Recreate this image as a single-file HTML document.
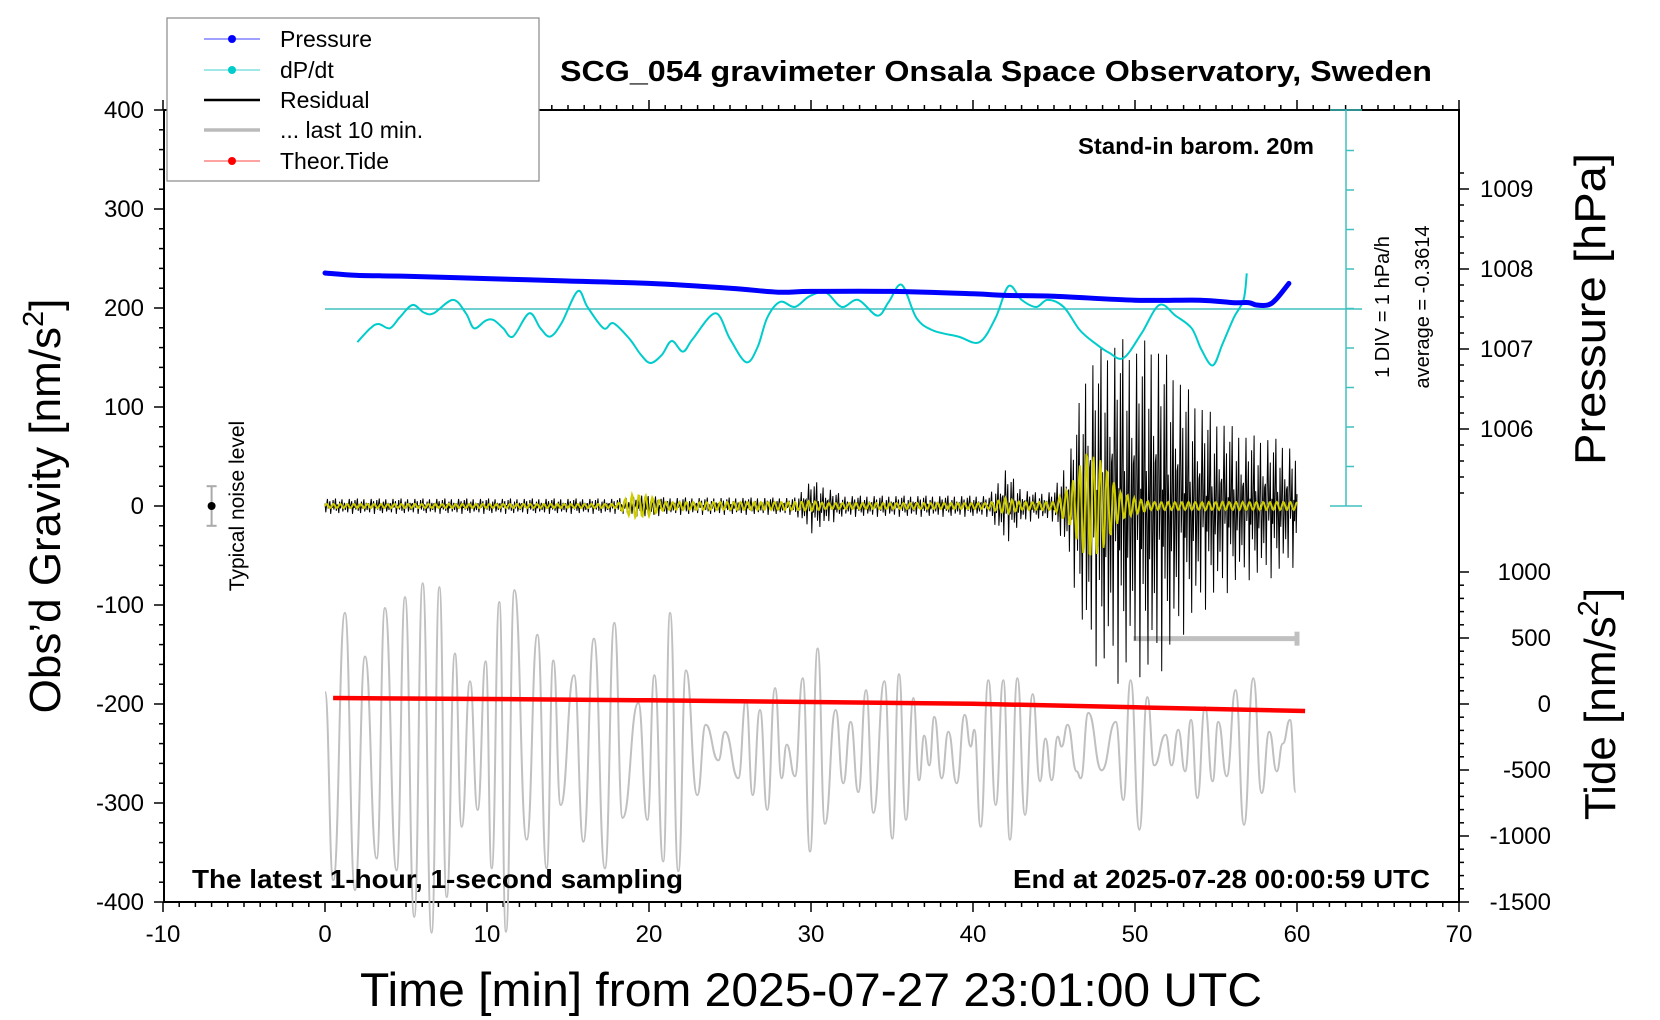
<!DOCTYPE html>
<html><head><meta charset="utf-8"><style>
html,body{margin:0;padding:0;background:#fff}
svg{display:block}
text{font-family:"Liberation Sans",sans-serif}
</style></head><body>
<svg id="chart" width="1660" height="1020" viewBox="0 0 1660 1020" xmlns="http://www.w3.org/2000/svg">
<g id="g-axes"></g>
<g id="g-data"></g>
<g id="g-text">
<text x="560" y="81" font-size="29" font-weight="bold" textLength="872" lengthAdjust="spacingAndGlyphs">SCG_054 gravimeter Onsala Space Observatory, Sweden</text>
<text x="1078" y="154" font-size="23" font-weight="bold" textLength="236" lengthAdjust="spacingAndGlyphs">Stand-in barom. 20m</text>
<text x="192" y="888" font-size="26" font-weight="bold" textLength="491" lengthAdjust="spacingAndGlyphs">The latest 1-hour, 1-second sampling</text>
<text x="1013" y="888" font-size="26" font-weight="bold" textLength="417" lengthAdjust="spacingAndGlyphs">End at 2025-07-28 00:00:59 UTC</text>
<text transform="translate(1389,307) rotate(-90)" font-size="20" text-anchor="middle">1 DIV = 1 hPa/h</text>
<text transform="translate(1429,307) rotate(-90)" font-size="20" text-anchor="middle">average = -0.3614</text>
<text transform="translate(244,506) rotate(-90)" font-size="21" text-anchor="middle">Typical noise level</text>
<text transform="translate(60,506) rotate(-90)" font-size="44" text-anchor="middle">Obs’d Gravity [nm/s<tspan dy="-17" font-size="29">2</tspan><tspan dy="17">]</tspan></text>
<text transform="translate(1605,309) rotate(-90)" font-size="44" text-anchor="middle" textLength="312" lengthAdjust="spacingAndGlyphs">Pressure [hPa]</text>
<text transform="translate(1615,704) rotate(-90)" font-size="44" text-anchor="middle">Tide [nm/s<tspan dy="-17" font-size="29">2</tspan><tspan dy="17">]</tspan></text>
<text x="360" y="1006" font-size="47" textLength="902" lengthAdjust="spacingAndGlyphs">Time [min] from 2025-07-27 23:01:00 UTC</text>
</g>
<g id="g-legend">
<rect x="167" y="18" width="372" height="163" fill="#fff" stroke="#888" stroke-width="1.2"/>
<g><line x1="204" y1="39" x2="260" y2="39" stroke="#4040ff" stroke-width="1"/><circle cx="232" cy="39" r="4" fill="#00f"/><text x="280" y="47" font-size="23">Pressure</text></g>
<g><line x1="204" y1="70" x2="260" y2="70" stroke="#40d0d0" stroke-width="1"/><circle cx="232" cy="70" r="4" fill="#00cccc"/><text x="280" y="78" font-size="23">dP/dt</text></g>
<g><line x1="204" y1="100" x2="260" y2="100" stroke="#000" stroke-width="2.5"/><text x="280" y="108" font-size="23">Residual</text></g>
<g><line x1="204" y1="130" x2="260" y2="130" stroke="#bbb" stroke-width="3.5"/><text x="280" y="138" font-size="23">... last 10 min.</text></g>
<g><line x1="204" y1="161" x2="260" y2="161" stroke="#f44" stroke-width="1"/><circle cx="232" cy="161" r="4" fill="#f00"/><text x="280" y="169" font-size="23">Theor.Tide</text></g>
</g>
</svg>
<script>
// ---- data ----
const xTicks = [-10,0,10,20,30,40,50,60,70];
const gTicks = [400,300,200,100,0,-100,-200,-300,-400];
const pTicks = [1009,1008,1007,1006];
const tideTicks = [1000,500,0,-500,-1000,-1500];
const pressTime = [0,2,5,10,15,20,25,28,30,35,40,42,45,50,54,56,57,57.5,58.2,58.7,59.5];
const pressVal = [1007.95,1007.92,1007.91,1007.88,1007.85,1007.82,1007.76,1007.71,1007.72,1007.72,1007.69,1007.67,1007.66,1007.61,1007.61,1007.58,1007.58,1007.55,1007.55,1007.62,1007.82];
const dpTime = [2.0,2.8,3.3,4.0,4.6,5.4,6.1,6.7,7.9,8.7,9.2,9.9,10.4,11.0,11.6,12.6,13.3,13.9,14.6,15.6,16.2,17.2,17.8,18.8,19.5,20.1,20.8,21.4,22.1,22.7,24.1,25.0,26.0,26.7,27.3,28.1,29.0,29.9,30.9,31.9,32.9,34.1,34.8,35.6,36.5,37.5,39.1,40.4,41.4,42.2,43.0,43.9,44.6,45.6,46.6,47.6,48.4,49.3,50.4,51.5,52.5,53.5,54.1,54.8,55.4,56.1,56.7,56.9];
const dpVal = [-1.20,-0.85,-0.74,-0.85,-0.58,-0.26,-0.45,-0.47,-0.13,-0.47,-0.85,-0.66,-0.64,-0.85,-1.06,-0.47,-0.85,-1.06,-0.72,0.09,-0.31,-0.85,-0.72,-1.12,-1.52,-1.73,-1.52,-1.17,-1.44,-1.12,-0.47,-1.12,-1.71,-1.33,-0.58,-0.18,-0.31,-0.04,0.06,-0.31,-0.13,-0.53,-0.18,0.25,-0.58,-0.90,-1.06,-1.20,-0.58,0.22,-0.13,-0.31,-0.13,-0.31,-0.90,-1.25,-1.47,-1.60,-0.98,-0.26,-0.53,-0.85,-1.39,-1.79,-1.25,-0.58,-0.13,0.54];
const tideTime = [0.5,10,20,30,40,50,60.5];
const tideVal = [45,38,28,15,2,-25,-53];
const resAmp = [8,8,8,8,8,8,8,8,8,8,8,8,8,8,8,8,8,8,8,10,12,9,9,9,9,9,9,9,9,9,28,20,11,11,11,11,11,11,11,11,11,11,40,18,14,16,60,150,170,180,170,180,160,130,110,95,85,75,75,70,60];
const yelAmp = [2,2,2,2,2,2,2,2,2,2,2,2,2,2,2,2,2,2,2,12,10,4,4,4,4,4,4,4,4,4,5,3,3,3,3,3,3,3,3,3,3,3,8,4,4,4,20,55,45,15,8,4,4,4,4,4,4,4,4,4,4];
const noisePattern = [0.3,-0.8,0.15,0.9,-0.2,0.05,0.6,-1.0,0.1,-0.25,0.75,-0.45,0.2,0.95,-0.6,0.2,-0.1,-0.9,0.55,-0.3,0.1,0.85,-0.7,-0.15,0.4,-0.5,0.25];
const grayTime = [0.0,0.51,1.23,1.85,2.47,3.19,3.70,4.42,4.94,5.51,6.03,6.58,7.06,7.51,8.02,8.44,8.95,9.42,9.92,10.29,10.76,11.17,11.69,12.45,13.11,13.68,14.09,14.55,15.37,15.95,16.60,17.28,17.86,18.37,19.34,19.90,20.33,20.88,21.30,21.81,22.28,22.98,23.50,24.28,24.69,25.51,25.99,26.40,26.85,27.30,27.78,28.19,28.50,29.01,29.49,29.94,30.41,30.86,31.52,31.99,32.45,32.92,33.40,33.85,34.53,35.02,35.43,35.86,36.32,36.67,36.99,37.30,37.61,38.07,38.48,38.99,39.49,39.86,40.08,40.47,40.95,41.40,41.87,42.28,42.74,43.21,43.68,44.14,44.47,44.86,45.23,45.47,45.84,46.40,46.65,47.12,47.94,48.81,49.28,49.73,50.27,50.76,51.19,51.89,52.26,52.67,53.09,53.46,53.85,54.32,54.79,55.14,55.66,56.21,56.73,57.30,57.82,58.29,58.75,59.12,59.57,59.92];
const grayVal = [-188,-378,-108,-388,-152,-356,-103,-368,-92,-415,-78,-431,-82,-395,-149,-324,-177,-307,-157,-366,-97,-430,-85,-337,-130,-366,-156,-302,-171,-339,-134,-366,-118,-315,-199,-317,-171,-359,-108,-369,-166,-292,-221,-257,-228,-275,-196,-292,-206,-307,-184,-275,-241,-273,-174,-349,-144,-321,-206,-280,-218,-289,-186,-310,-177,-336,-170,-317,-194,-277,-232,-262,-213,-275,-228,-280,-211,-243,-226,-324,-176,-302,-176,-337,-174,-312,-190,-278,-235,-277,-233,-243,-221,-268,-275,-209,-267,-218,-297,-176,-327,-193,-262,-231,-262,-226,-268,-216,-295,-203,-278,-218,-273,-186,-322,-174,-290,-228,-268,-240,-216,-289];
const last10Bar = [49.9,60,-134];
const noiseBar = [-7,0,20];

// ---- scales ----
const X = t => 325 + t*16.2;
const Y = g => 506 - g*0.99;
const P = p => 189 + (1009-p)*80;
const TD = v => 704 - v*0.132;
const D = v => 309 - (v+0.3614)*39.5;
const NS = 'http://www.w3.org/2000/svg';
const axes = document.getElementById('g-axes');
const dataG = document.getElementById('g-data');
function mk(tag, attrs, parent){const e=document.createElementNS(NS,tag);for(const k in attrs)e.setAttribute(k,attrs[k]);parent.appendChild(e);return e;}

const frame = mk('rect',{x:164,y:110,width:1295,height:792,fill:'none',stroke:'#000','stroke-width':2},axes);


for(let m=-10;m<=70;m++){
  const big = m%10===0;
  mk('line',{x1:X(m),y1:902,x2:X(m),y2:902+(big?10:5),stroke:'#000','stroke-width':1.5},axes);
  mk('line',{x1:X(m),y1:110,x2:X(m),y2:110-(big?10:5),stroke:'#000','stroke-width':1.5},axes);
}
xTicks.forEach(v=>{const t=mk('text',{x:X(v),y:942,'font-size':24,'text-anchor':'middle'},axes);t.textContent=v;

});
for(let g=-400;g<=400;g+=20){const big=g%100===0;mk('line',{x1:164,y1:Y(g),x2:164-(big?10:5),y2:Y(g),stroke:'#000','stroke-width':1.5},axes);}
gTicks.forEach(v=>{const t=mk('text',{x:144,y:Y(v)+8,'font-size':24,'text-anchor':'end'},axes);t.textContent=v;

});
for(let i=0;i<=21;i++){const p=1005+i*0.2;const y=P(p);if(y<110||y>506)continue;const big=Math.abs(p-Math.round(p))<0.01;mk('line',{x1:1459,y1:y,x2:1459+(big?10:5),y2:y,stroke:'#000','stroke-width':1.5},axes);}
pTicks.forEach(v=>{const t=mk('text',{x:1480,y:P(v)+8,'font-size':24},axes);t.textContent=v;

});
for(let v=-1500;v<=1000;v+=100){const big=v%500===0;mk('line',{x1:1459,y1:TD(v),x2:1459+(big?10:5),y2:TD(v),stroke:'#000','stroke-width':1.5},axes);}
tideTicks.forEach(v=>{const t=mk('text',{x:1551,y:TD(v)+8,'font-size':24,'text-anchor':'end'},axes);t.textContent=v;

});
const dpAxis = mk('g',{stroke:'#40c0c0','stroke-width':1.5},axes);


mk('line',{x1:1346,y1:Y(0),x2:1346,y2:Y(400)},dpAxis);
mk('line',{x1:1330,y1:Y(0),x2:1362,y2:Y(0)},dpAxis);
mk('line',{x1:1330,y1:Y(400),x2:1362,y2:Y(400)},dpAxis);
for(let k=1;k<10;k++){const y=Y(0)-k*39.5;mk('line',{x1:1346,y1:y,x2:1354,y2:y},dpAxis);}
const avgLine = mk('line',{x1:X(0),y1:D(-0.3614),x2:1362,y2:D(-0.3614),stroke:'#40c0c0','stroke-width':1.5},dataG);



let gd = `M${X(grayTime[0])},${Y(grayVal[0])}`;
for(let i=1;i<grayTime.length;i++){const x0=X(grayTime[i-1]),y0=Y(grayVal[i-1]),x1=X(grayTime[i]),y1=Y(grayVal[i]);const h=(x1-x0)/2;gd+=` C${x0+h},${y0} ${x1-h},${y1} ${x1},${y1}`;}
const gray = mk('path',{d:gd,fill:'none',stroke:'#c0c0c0','stroke-width':2},dataG);


const bar = mk('g',{stroke:'#c0c0c0'},dataG);


mk('line',{x1:X(last10Bar[0]),y1:Y(last10Bar[2]),x2:X(last10Bar[1]),y2:Y(last10Bar[2]),'stroke-width':5},bar);
mk('line',{x1:X(last10Bar[1]),y1:Y(last10Bar[2])-7,x2:X(last10Bar[1]),y2:Y(last10Bar[2])+7,'stroke-width':5},bar);

let td='';tideTime.forEach((t,i)=>{td+=(i?'L':'M')+X(t)+','+TD(tideVal[i]);});
const tide = mk('path',{d:td,fill:'none',stroke:'#f00','stroke-width':4.5},dataG);



function ampAt(arr,t){const i=Math.min(59,Math.floor(t));const f=t-i;return arr[i]*(1-f)+arr[i+1]*f;}
let rd='';let n=0;
for(let s=0;s<=3600;s+=3){const t=s/60;const v=ampAt(resAmp,t)*noisePattern[n%noisePattern.length];rd+=(n?'L':'M')+X(t).toFixed(1)+','+Y(v).toFixed(1);n++;}
const res = mk('path',{d:rd,fill:'none',stroke:'#000','stroke-width':1},dataG);


let yd='';n=0;
for(let s=0;s<=3600;s+=3){const t=s/60;const v=ampAt(yelAmp,t)*Math.sin(s*0.25);yd+=(n?'L':'M')+X(t).toFixed(1)+','+Y(v).toFixed(1);n++;}
const yel = mk('path',{d:yd,fill:'none',stroke:'#cccc00','stroke-width':2},dataG);



function cr(xs,ys){let d=`M${xs[0]},${ys[0]}`;for(let i=0;i<xs.length-1;i++){const x0=xs[Math.max(0,i-1)],y0=ys[Math.max(0,i-1)],x1=xs[i],y1=ys[i],x2=xs[i+1],y2=ys[i+1],x3=xs[Math.min(xs.length-1,i+2)],y3=ys[Math.min(xs.length-1,i+2)];d+=` C${x1+(x2-x0)/6},${y1+(y2-y0)/6} ${x2-(x3-x1)/6},${y2-(y3-y1)/6} ${x2},${y2}`;}return d;}
const dp = mk('path',{d:cr(dpTime.map(X),dpVal.map(D)),fill:'none',stroke:'#00cccc','stroke-width':2},dataG);



const pr = mk('path',{d:cr(pressTime.map(X),pressVal.map(P)),fill:'none',stroke:'#0000ff','stroke-width':5,'stroke-linejoin':'round','stroke-linecap':'round'},dataG);



const nb = mk('g',{stroke:'#aaa','stroke-width':2},dataG);


mk('line',{x1:X(noiseBar[0]),y1:Y(noiseBar[2]),x2:X(noiseBar[0]),y2:Y(-noiseBar[2])},nb);
mk('line',{x1:X(noiseBar[0])-5,y1:Y(noiseBar[2]),x2:X(noiseBar[0])+5,y2:Y(noiseBar[2])},nb);
mk('line',{x1:X(noiseBar[0])-5,y1:Y(-noiseBar[2]),x2:X(noiseBar[0])+5,y2:Y(-noiseBar[2])},nb);
mk('circle',{cx:X(noiseBar[0]),cy:Y(noiseBar[1]),r:4,fill:'#000',stroke:'none'},nb);
</script>
</body></html>
